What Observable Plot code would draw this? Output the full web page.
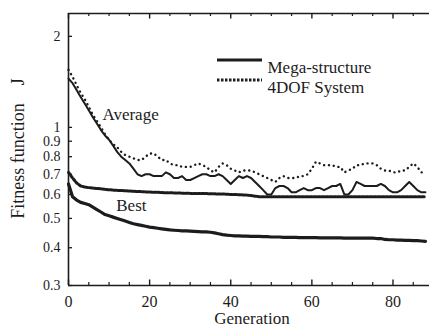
<!DOCTYPE html>
<html><head><meta charset="utf-8">
<script src="https://cdn.jsdelivr.net/npm/d3@7"></script>
<script src="https://cdn.jsdelivr.net/npm/@observablehq/plot@0.6"></script>
<style>
html,body{margin:0;padding:0;background:#fff;}
</style>
</head><body>
<div id="chart"></div>
<script>
const generations = d3.range(0, 89);
const avgMega = [1.45,1.40,1.33,1.26,1.20,1.14,1.08,1.03,0.98,0.94,0.91,0.87,0.83,0.80,0.78,0.76,0.73,0.70,0.69,0.70,
0.70,0.69,0.69,0.69,0.71,0.70,0.68,0.68,0.69,0.67,0.67,0.68,0.69,0.70,0.70,0.69,0.69,0.70,0.69,0.67,
0.65,0.67,0.69,0.68,0.69,0.68,0.66,0.64,0.62,0.60,0.60,0.63,0.64,0.64,0.63,0.61,0.61,0.62,0.63,0.62,
0.62,0.63,0.63,0.62,0.63,0.64,0.64,0.65,0.60,0.60,0.62,0.66,0.65,0.64,0.64,0.64,0.64,0.65,0.64,0.62,
0.61,0.61,0.62,0.64,0.66,0.64,0.62,0.61,0.61];
const avg4dof = [1.55,1.47,1.38,1.30,1.24,1.17,1.10,1.05,1.00,0.95,0.91,0.88,0.86,0.83,0.81,0.80,0.79,0.78,0.78,0.80,
0.82,0.82,0.80,0.78,0.78,0.76,0.75,0.75,0.74,0.74,0.74,0.75,0.76,0.75,0.74,0.72,0.71,0.74,0.76,0.75,
0.73,0.72,0.71,0.72,0.72,0.72,0.71,0.70,0.69,0.68,0.67,0.66,0.68,0.69,0.68,0.68,0.68,0.69,0.69,0.70,
0.73,0.77,0.76,0.75,0.75,0.75,0.74,0.74,0.71,0.72,0.73,0.75,0.75,0.76,0.76,0.76,0.75,0.73,0.72,0.72,
0.71,0.71,0.72,0.72,0.74,0.76,0.74,0.71,0.71];
const bestMega = [0.65,0.59,0.575,0.565,0.56,0.555,0.545,0.535,0.525,0.515,0.51,0.505,0.50,0.495,0.49,0.485,0.48,0.477,0.474,0.471,
0.468,0.466,0.464,0.462,0.46,0.458,0.457,0.456,0.455,0.455,0.454,0.453,0.452,0.451,0.451,0.45,0.448,0.445,0.442,0.44,
0.439,0.438,0.438,0.437,0.437,0.436,0.436,0.436,0.435,0.435,0.434,0.434,0.434,0.433,0.433,0.433,0.433,0.432,0.432,0.432,
0.432,0.432,0.431,0.431,0.431,0.431,0.431,0.431,0.430,0.430,0.430,0.430,0.430,0.430,0.430,0.430,0.429,0.429,0.426,0.425,
0.425,0.424,0.424,0.423,0.423,0.422,0.422,0.421,0.420];
const best4dof = [0.71,0.68,0.655,0.64,0.635,0.632,0.63,0.628,0.626,0.624,0.622,0.62,0.619,0.618,0.617,0.616,0.615,0.614,0.613,0.612,
0.611,0.61,0.61,0.609,0.608,0.608,0.607,0.607,0.606,0.606,0.605,0.605,0.605,0.604,0.604,0.603,0.603,0.602,0.602,0.601,
0.60,0.60,0.599,0.598,0.597,0.595,0.592,0.59,0.59,0.59,0.59,0.59,0.59,0.59,0.59,0.59,0.59,0.59,0.59,0.59,
0.59,0.59,0.59,0.59,0.59,0.59,0.59,0.59,0.59,0.59,0.59,0.59,0.59,0.59,0.59,0.59,0.59,0.59,0.59,0.59,
0.59,0.59,0.59,0.59,0.59,0.59,0.59,0.59,0.59];
const yTicks = [2,1,0.9,0.8,0.7,0.6,0.5,0.4,0.3];
const xTicks = [0,20,40,60,80];
const xMinor = [5,10,15,25,30,35,45,50,55,65,70,75,85];
const seriesNames = ["Mega-structure","4DOF System"];
const labels = [{t:"Average", x:15.3, y:1.10},{t:"Best", x:15.5, y:0.552}];
const yDomain = [0.3, 2.38];
const xDomain = [0, 89];

const rows = (arr) => generations.map((g,i)=>({g, v: arr[i]}));
const ink = "#1c1c1c";
const font = "Liberation Serif";
const lo = yDomain[0], hi = yDomain[1];
const f3 = Math.pow(10, 3/302), f5 = Math.pow(10, 5.5/302);

const plot = Plot.plot({
  width: 429, height: 331,
  marginLeft: 68, marginRight: 0, marginTop: 13, marginBottom: 46,
  style: {fontFamily: font, fontSize: "17px", color: ink, background: "#fff"},
  x: {domain: xDomain},
  y: {type: "log", domain: yDomain},
  marks: [
    Plot.axisX({ticks: xTicks, tickSize: 0, tickPadding: 10, label: null, tickFormat: d=>String(d), fill: ink, fontSize: 16}),
    Plot.axisY({ticks: yTicks, tickSize: 0, tickPadding: 8, label: null, tickFormat: d=>String(d), fill: ink, fontSize: 14}),
    Plot.ruleY([lo], {stroke: ink, strokeWidth: 1.6}),
    Plot.ruleY([hi], {stroke: ink, strokeWidth: 1.6}),
    Plot.ruleX([xDomain[0]], {stroke: ink, strokeWidth: 1.6}),
    Plot.ruleX(xMinor, {y1: lo, y2: lo*f3, stroke: ink, strokeWidth: 1.2}),
    Plot.ruleX(xTicks, {y1: lo, y2: lo*f5, stroke: ink, strokeWidth: 1.4}),
    Plot.ruleX(xMinor, {y1: hi, y2: hi/f3, stroke: ink, strokeWidth: 1.2}),
    Plot.ruleX(xTicks, {y1: hi, y2: hi/f5, stroke: ink, strokeWidth: 1.4}),
    Plot.ruleY(yTicks, {x1: 0, x2: 1, stroke: ink, strokeWidth: 1.3}),
    Plot.line(rows(avg4dof), {x:"g", y:"v", stroke: ink, strokeWidth: 2.4, strokeDasharray: "0.1 4.8", strokeLinecap: "round"}),
    Plot.line(rows(avgMega), {x:"g", y:"v", stroke: ink, strokeWidth: 2}),
    Plot.line(rows(best4dof), {x:"g", y:"v", stroke: ink, strokeWidth: 3, strokeDasharray: "2.5 1.5"}),
    Plot.line(rows(bestMega), {x:"g", y:"v", stroke: ink, strokeWidth: 3.2}),
    Plot.text(labels, {x:"x", y:"y", text:"t", fill: ink, fontSize: 17}),
    Plot.text(["Generation"], {frameAnchor:"bottom", dx: 3, dy: 38, fill: ink, fontSize: 17}),
    Plot.text(["Fitness function\u00a0\u00a0\u00a0\u00a0J"], {frameAnchor:"left", textAnchor:"middle", rotate:-90, dx:-50, dy:-1, fill: ink, fontSize: 18}),
    Plot.text([seriesNames[0]], {frameAnchor:"top-left", dx: 199, dy: 47, textAnchor:"start", fill: ink, fontSize: 17}),
    Plot.text([seriesNames[1]], {frameAnchor:"top-left", dx: 199, dy: 67, textAnchor:"start", fill: ink, fontSize: 17})
  ]
});
// legend samples
const svg = d3.select(plot);
svg.append("line").attr("x1",217).attr("x2",262).attr("y1",60).attr("y2",60)
  .attr("stroke",ink).attr("stroke-width",3);
svg.append("line").attr("x1",217).attr("x2",262).attr("y1",80).attr("y2",80)
  .attr("stroke",ink).attr("stroke-width",3).attr("stroke-dasharray","2.5 1.5");
document.getElementById("chart").appendChild(plot);
</script>
</body></html>
